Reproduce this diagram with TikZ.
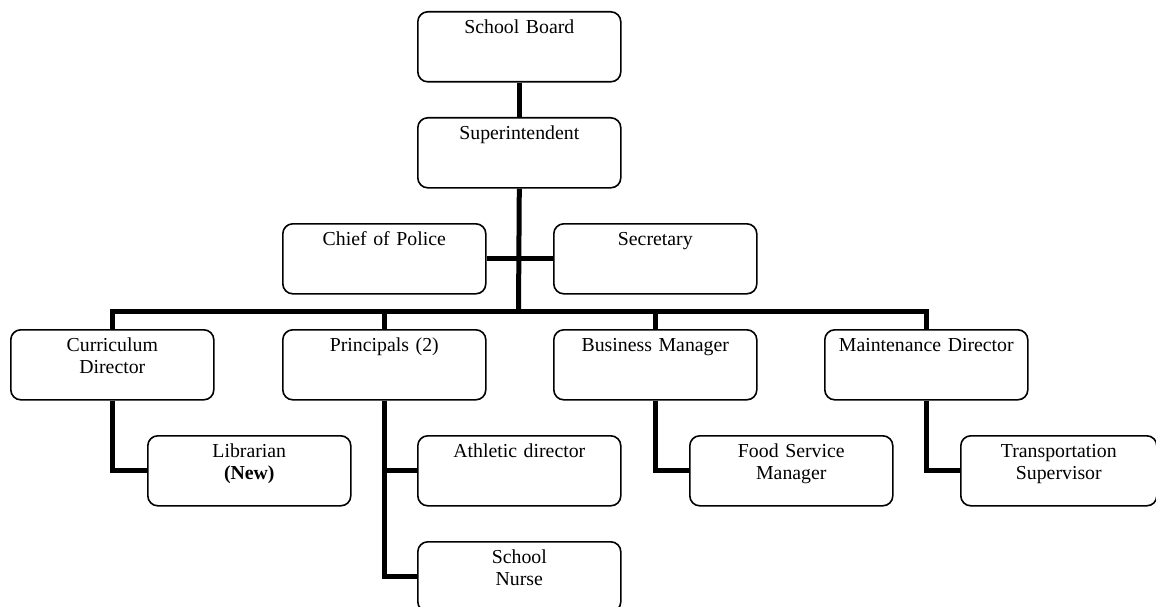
\documentclass[tikz,border=0pt]{standalone}
\usepackage{fontspec}
\setmainfont{Liberation Serif}
\begin{document}
\begin{tikzpicture}[x=1pt,y=-1pt,
  box/.style={draw, line width=1.6pt, rounded corners=10pt, anchor=north west,
    inner sep=0pt, text width=#1, minimum width=#1, align=center,
    text height=22pt, text depth=48pt, font=\fontsize{19.8}{22}\selectfont},
  box/.default=203pt,
  conn/.style={line width=5pt, line join=miter}]
\useasboundingbox (0,0) rectangle (1156,607);
\clip (0,0) rectangle (1156,607);
% boxes
\node[box] (sb)  at (417,11)  {School Board};
\node[box] (sup) at (417,117) {Superintendent};
\node[box] (cop) at (282,223) {Chief of Police};
\node[box] (sec) at (553,223) {Secretary};
\node[box] (cur) at (10,329)  {Curriculum\\Director};
\node[box] (pri) at (282,329) {Principals (2)};
\node[box] (bus) at (553,329) {Business Manager};
\node[box] (mnt) at (824,329) {Maintenance Director};
\node[box] (lib) at (147,435) {Librarian\\\textbf{(New)}};
\node[box] (ath) at (417,435) {Athletic director};
\node[box] (nur) at (417,541) {School\\Nurse};
\node[box] (fsm) at (689,435) {Food Service\\Manager};
\node[box=196pt] (trn) at (960,435) {Transportation\\Supervisor};
% connectors
\coordinate (busline) at (518.5,311);
\draw[conn] (sb.south) -- (sup.north);
\draw[conn] (sup.south) -- (busline);
\draw[conn] (cop.east) -- (sec.west);
\draw[conn] (cur.north) -- (cur.north |- busline) -- (mnt.north |- busline) -- (mnt.north);
\draw[conn] (pri.north |- busline) -- (pri.north);
\draw[conn] (bus.north |- busline) -- (bus.north);
\draw[conn] (cur.south) |- (lib.west);
\draw[conn] (pri.south) |- (ath.west);
\draw[conn] (pri.south) |- (nur.west);
\draw[conn] (bus.south) |- (fsm.west);
\draw[conn] (mnt.south) |- (trn.west);
\end{tikzpicture}
\end{document}
